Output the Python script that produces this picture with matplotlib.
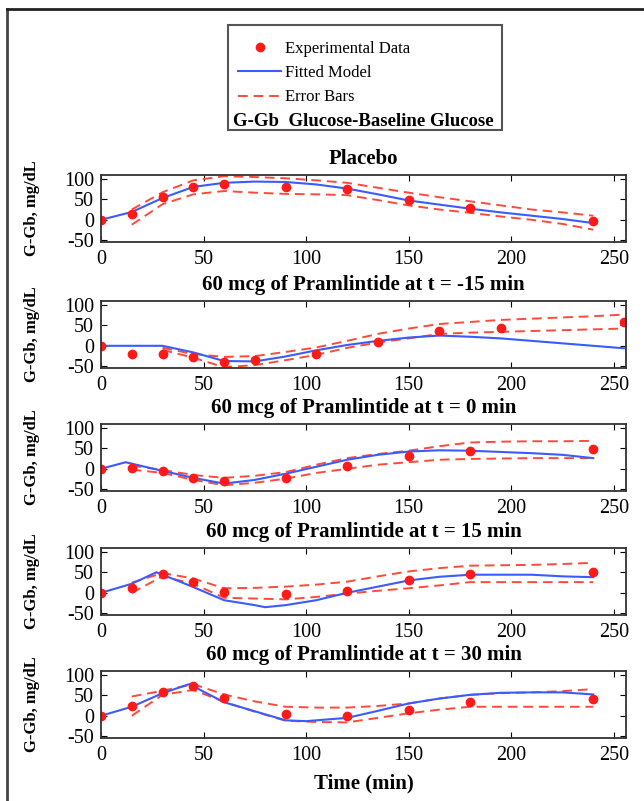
import numpy as np
import matplotlib
matplotlib.use("Agg")
import matplotlib.pyplot as plt
from matplotlib.lines import Line2D
from matplotlib.patches import Rectangle

plt.rcParams['font.family'] = ['Liberation Serif', 'DejaVu Serif']
plt.rcParams['axes.unicode_minus'] = False

titles = ["Placebo",
          "60 mcg of Pramlintide at t = -15 min",
          "60 mcg of Pramlintide at t = 0 min",
          "60 mcg of Pramlintide at t = 15 min",
          "60 mcg of Pramlintide at t = 30 min"]

# experimental data
t_pts = [[0, 15, 30, 45, 60, 90, 120, 150, 180, 240],
         [0, 15, 30, 45, 60, 75, 105, 135, 165, 195, 255],
         [0, 15, 30, 45, 60, 90, 120, 150, 180, 240],
         [0, 15, 30, 45, 60, 90, 120, 150, 180, 240],
         [0, 15, 30, 45, 60, 90, 120, 150, 180, 240]]
g_pts = [[0, 15, 55, 81, 88, 81, 76, 49, 29, -3],
         [0, -20, -20, -27, -39, -34, -19, 10, 37, 43, 59],
         [0, 3, -6, -22, -30, -22, 8, 30, 44, 48],
         [0, 11, 46, 26, 2, -2, 5, 30, 45, 50],
         [0, 24, 57, 73, 43, 4, 0, 14, 34, 41]]

# fitted model
t_fit = [[0, 15, 30, 45, 60, 75, 90, 105, 120, 135, 150, 165, 180, 195, 210, 225, 240],
         [0, 15, 30, 45, 60, 75, 90, 105, 120, 135, 150, 165, 180, 195, 210, 225, 240, 255],
         [0, 12, 30, 45, 60, 75, 90, 105, 120, 135, 150, 165, 180, 195, 210, 225, 240],
         [0, 15, 27, 45, 60, 75, 80, 90, 105, 120, 135, 150, 165, 180, 195, 210, 225, 240],
         [0, 15, 30, 43, 60, 75, 90, 100, 120, 135, 150, 165, 180, 195, 210, 225, 240]]
g_fit = [[0, 19, 53, 80, 90, 93, 92, 86, 76, 62, 47, 37, 27, 18, 10, 2, -8],
         [0, 0, 0, -16, -37, -38, -26, -11, 2, 12, 20, 25, 22, 18, 12, 6, 0, -6],
         [0, 16, -5, -22, -36, -27, -12, 5, 22, 34, 42, 45, 44, 41, 38, 34, 26],
         [0, 22, 50, 14, -18, -30, -35, -30, -18, 0, 15, 30, 39, 44, 44, 44, 40, 38],
         [0, 22, 55, 77, 33, 11, -11, -13, -5, 12, 30, 42, 51, 56, 57, 57, 52]]

# error bars
t_err = [[15, 30, 45, 60, 75, 90, 105, 120, 135, 150, 165, 180, 195, 210, 225, 240],
         [30, 45, 60, 75, 90, 105, 120, 135, 150, 165, 180, 195, 210, 225, 240, 255],
         [15, 30, 45, 60, 75, 90, 105, 120, 135, 150, 165, 180, 195, 210, 225, 240],
         [15, 30, 45, 60, 75, 90, 105, 120, 135, 150, 165, 180, 195, 210, 225, 240],
         [15, 30, 45, 60, 75, 90, 105, 120, 135, 150, 165, 180, 195, 210, 225, 240]]
err_hi = [[25, 67, 96, 106, 104, 101, 96, 90, 78, 66, 55, 45, 35, 25, 18, 10],
          [-5, -20, -27, -25, -15, -4, 12, 29, 42, 53, 58, 63, 66, 69, 72, 76],
          [8, -3, -15, -22, -17, -8, 10, 26, 36, 44, 55, 64, 66, 67, 67, 68],
          [25, 48, 35, 11, 12, 15, 20, 27, 40, 52, 60, 66, 67, 68, 70, 73],
          [47, 61, 77, 52, 35, 22, 20, 20, 24, 30, 42, 51, 55, 57, 60, 65]]
err_lo = [[-12, 38, 62, 70, 66, 63, 62, 60, 48, 35, 25, 17, 8, 0, -10, -24],
          [-10, -29, -52, -47, -35, -22, -5, 8, 18, 29, 32, 34, 36, 38, 40, 42],
          [-2, -10, -27, -40, -34, -24, -10, 0, 10, 16, 22, 24, 25, 26, 26, 26],
          [0, 40, 22, -12, -14, -16, -10, -2, 5, 11, 18, 26, 26, 26, 26, 26],
          [0, 51, 63, 34, 10, -12, -15, -16, -5, 6, 15, 22, 22, 22, 22, 22]]

W, H = 644, 801
fig = plt.figure(figsize=(W / 100, H / 100), dpi=100)

RED = '#ff1a1a'
DASH = '#ff4a3a'
BLUE = '#3a5cff'

tops = [175, 301, 424, 548, 671]
left, right, hgt = 101, 626, 67

for i in range(5):
    ax = fig.add_axes([left / W, 1 - (tops[i] + hgt) / H, (right - left) / W, hgt / H])
    ax.plot(t_err[i], err_hi[i], '--', color=DASH, lw=1.4, dashes=(5, 3))
    ax.plot(t_err[i], err_lo[i], '--', color=DASH, lw=1.4, dashes=(5, 3))
    ax.plot(t_fit[i], g_fit[i], '-', color=BLUE, lw=1.5)
    ax.plot(t_pts[i], g_pts[i], 'o', color=RED, ms=6, mec=RED)
    ax.set_xlim(0, 256)
    ax.set_ylim(-54, 109)
    ax.set_xticks([0, 50, 100, 150, 200, 250])
    ax.set_yticks([-50, 0, 50, 100])
    ax.tick_params(direction='in', top=True, right=True, length=4, labelsize=14.5)
    ax.tick_params(axis='x', pad=6)
    ax.tick_params(axis='y', pad=5)
    for s in ax.spines.values():
        s.set_color('#333333')
        s.set_linewidth(1.3)
    ax.set_title(titles[i], fontsize=15, fontweight='bold', pad=8)
    ax.set_ylabel("G-Gb, mg/dL", fontsize=12, fontweight='bold')
    ax.yaxis.set_label_coords(-0.117, 0.5)
    if i == 4:
        ax.set_xlabel("Time (min)", fontsize=15, fontweight='bold', labelpad=6)

# legend box
fig.add_artist(Rectangle((228 / W, 1 - 130 / H), (502 - 228) / W, (130 - 25) / H,
                         transform=fig.transFigure, fill=False, edgecolor='#555555', lw=1.5))
handles = [Line2D([], [], ls='none', marker='o', color=RED, ms=6),
           Line2D([], [], color=BLUE, lw=1.5),
           Line2D([], [], color=DASH, lw=1.4, ls='--', dashes=(5, 3))]
fig.legend(handles, ["Experimental Data", "Fitted Model", "Error Bars"],
           loc='center left', bbox_to_anchor=(238 / W, 1 - 73 / H), frameon=False,
           borderpad=0, borderaxespad=0, handlelength=2.6, handletextpad=0.2,
           labelspacing=0.5, fontsize=12)
fig.text(233 / W, 1 - 122 / H, "G-Gb  Glucose-Baseline Glucose", fontsize=13.5,
         fontweight='bold', ha='left', va='center')

# outer frame (top and left)
fig.add_artist(Line2D([7 / W, 7 / W], [0, 1 - 9 / H], transform=fig.transFigure, color='#444444', lw=2))
fig.add_artist(Line2D([7 / W, 1], [1 - 9 / H, 1 - 9 / H], transform=fig.transFigure, color='#222222', lw=2))

fig.savefig("out.png", dpi=100)
